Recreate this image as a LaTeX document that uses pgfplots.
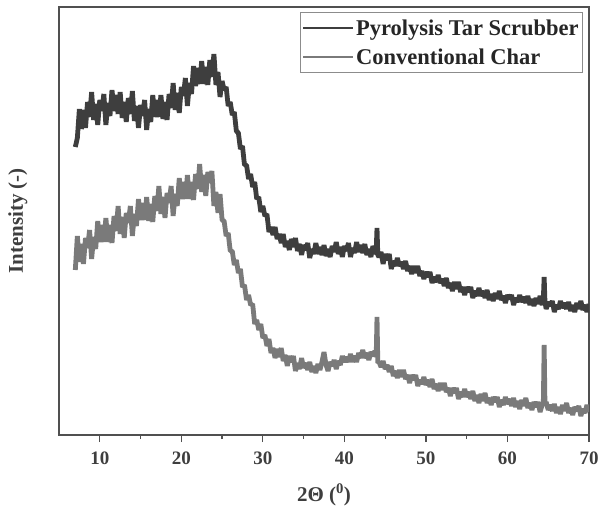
\documentclass[border=0pt]{standalone}
\usepackage{fontspec}
\setmainfont{Liberation Serif}
\usepackage{pgfplots}
\usepackage{pgfplotstable}
\pgfplotsset{compat=1.18}
\definecolor{darkc}{RGB}{62,62,62}
\definecolor{lightc}{RGB}{122,122,122}
\definecolor{framec}{RGB}{80,80,80}
\definecolor{legc}{RGB}{140,140,140}
\pgfplotstableread{
x u l
7.00 288 165
7.25 297 199
7.50 326 173
7.75 306 191
8.00 325 171
8.25 307 197
8.50 333 187
8.75 318 205
9.00 343 176
9.25 315 198
9.50 331 186
9.75 310 214
10.00 335 193
10.25 324 210
10.50 341 193
10.75 310 217
11.00 332 193
11.25 319 210
11.50 345 192
11.75 324 219
12.00 340 204
12.25 321 229
12.50 343 201
12.75 317 218
13.00 333 197
13.25 313 222
13.50 337 212
13.75 321 229
14.00 344 199
14.25 314 221
14.50 329 209
14.75 307 236
15.00 330 215
15.25 319 232
15.50 335 215
15.75 305 238
16.00 326 214
16.25 313 231
16.50 340 213
16.75 318 239
17.00 335 224
17.25 318 249
17.50 340 221
17.75 316 238
18.00 333 217
18.25 315 242
18.50 341 232
18.75 327 249
19.00 352 219
19.25 325 241
19.50 342 229
19.75 322 257
20.00 348 236
20.25 339 253
20.50 357 236
20.75 329 260
21.00 352 236
21.25 341 253
21.50 369 235
21.75 349 261
22.00 367 246
22.25 351 271
22.50 374 243
22.75 351 260
23.00 368 239
23.25 350 263
23.50 375 252
23.75 358 264
24.00 381 229
24.25 350 243
24.50 363 222
24.75 338 241
25.00 354 215
25.25 345 214
25.50 348 199
25.75 329 202
26.00 333 184
26.25 320 184
26.50 323 170
26.75 304 175
27.00 302 162
27.25 286 166
27.50 289 148
27.75 270 150
28.00 270 135
28.25 256 140
28.50 261 130
28.75 248 131
29.00 253 111
29.25 236 115
29.50 238 105
29.75 223 111
30.00 229 97
30.25 219 100
30.50 221 89
30.75 203 96
31.00 208 82
31.25 200 87
31.50 208 77
31.75 196 86
32.00 201 78
32.25 192 87
32.50 201 74
32.75 188 80
33.00 194 69
33.25 185 79
33.50 196 73
33.75 188 79
34.00 197 64
34.25 184 72
34.50 191 66
34.75 180 77
35.00 190 67
35.25 185 72
35.50 192 65
35.75 177 73
36.00 186 63
36.25 181 69
36.50 192 62
36.75 181 71
37.00 188 65
37.25 180 73
37.50 190 83
37.75 179 70
38.00 186 64
38.25 178 73
38.50 189 69
38.75 183 75
39.00 193 66
39.25 181 74
39.50 188 70
39.75 178 79
40.00 189 73
40.25 184 78
40.50 192 73
40.75 178 81
41.00 187 73
41.25 182 79
41.50 193 73
41.75 183 82
42.00 190 77
42.25 182 85
42.50 191 77
42.75 180 82
43.00 186 75
43.25 178 83
43.50 189 79
43.75 181 84
43.90 184 78
44.00 207 118
44.10 180 72
44.25 178 73
44.50 183 68
44.75 171 74
45.00 181 66
45.25 175 70
45.50 181 63
45.75 166 69
46.00 174 59
46.25 169 64
46.50 177 57
46.75 169 65
47.00 173 58
47.25 166 65
47.50 174 56
47.75 164 60
48.00 169 52
48.25 161 60
48.50 169 55
48.75 162 60
49.00 169 49
49.25 159 55
49.50 164 51
49.75 156 58
50.00 163 50
50.25 158 55
50.50 163 48
50.75 152 56
51.00 158 46
51.25 153 51
51.50 160 44
51.75 152 52
52.00 156 45
52.25 149 52
52.50 157 43
52.75 147 47
53.00 152 39
53.25 144 47
53.50 153 42
53.75 146 47
54.00 153 36
54.25 143 43
54.50 148 38
54.75 140 46
55.00 148 38
55.25 143 43
55.50 148 36
55.75 137 44
56.00 144 34
56.25 139 40
56.50 147 32
56.75 139 41
57.00 144 34
57.25 137 42
57.50 145 32
57.75 135 37
58.00 141 30
58.25 134 38
58.50 142 33
58.75 136 38
59.00 144 28
59.25 135 35
59.50 139 30
59.75 132 38
60.00 140 31
60.25 136 36
60.50 140 29
60.75 130 37
61.00 137 28
61.25 133 34
61.50 140 26
61.75 133 35
62.00 138 29
62.25 132 37
62.50 139 27
62.75 130 32
63.00 136 25
63.25 129 33
63.50 137 28
63.75 131 33
64.00 139 23
64.25 130 30
64.40 136 32
64.50 158 90
64.60 133 30
64.75 126 33
65.00 133 25
65.25 129 30
65.50 134 24
65.75 123 31
66.00 130 22
66.25 126 28
66.50 134 21
66.75 127 30
67.00 132 24
67.25 126 32
67.50 133 22
67.75 124 27
68.00 130 20
68.25 123 28
68.50 132 24
68.75 126 29
69.00 134 19
69.25 125 26
69.50 130 22
69.75 123 30
70.00 131 23
}\xrd
\begin{document}
\begin{tikzpicture}
\begin{axis}[
  name=ax,
  at={(0,0)}, anchor=south west,
  scale only axis,
  width=530pt, height=428pt,
  xmin=5, xmax=70, ymin=0, ymax=428,
  axis line style={draw=framec, line width=1.5pt},
  xtick={10,20,...,70},
  minor x tick num=1,
  xtick pos=bottom,
  ytick=\empty,
  tick align=outside,
  major tick length=7pt,
  minor tick length=4pt,
  every tick/.style={draw=framec, line width=1.2pt},
  /pgf/number format/assume math mode=true,
  xticklabel style={font=\bfseries\fontsize{19}{19}\selectfont, text=darkc, yshift=-6pt},
  xlabel={2Θ (\textsuperscript{0})},
  ylabel={Intensity (-)},
  xlabel style={font=\bfseries\fontsize{21}{21}\selectfont, text=darkc, at={(axis description cs:0.5,-0.140)}, anchor=center},
  ylabel style={font=\bfseries\fontsize{21}{21}\selectfont, text=darkc, at={(axis description cs:-0.0774,0.5)}, anchor=center, rotate=0},
  legend style={at={(axis description cs:0.9887,0.9883)}, anchor=north east,
    draw=legc, line width=0.8pt, font=\bfseries\fontsize{22.5}{24}\selectfont,
    text=black!85, inner xsep=2pt, inner ysep=5pt, row sep=8pt},
  legend cell align=left,
  legend image code/.code={\draw[#1, line width=1.6pt] (-6pt,0pt) -- (44pt,0pt);},
]
\addplot[color=darkc, line width=4.8pt, line join=bevel] table[x=x, y=u] {\xrd};
\addlegendentry{Pyrolysis Tar Scrubber}
\addplot[color=lightc, line width=4.8pt, line join=bevel] table[x=x, y=l] {\xrd};
\addlegendentry{Conventional Char}
\end{axis}
\pgfresetboundingbox
\path[use as bounding box] (-59pt,-71pt) rectangle (541pt,435pt);
\end{tikzpicture}
\end{document}
